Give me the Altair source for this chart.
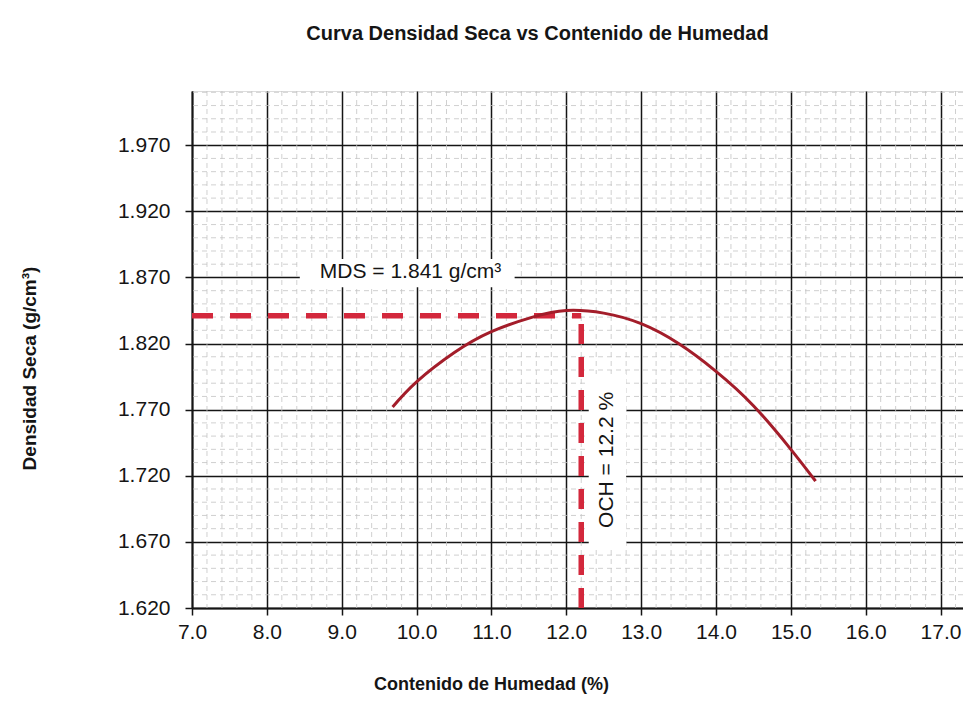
import altair as alt
import pandas as pd
import numpy as np

# ---- data ----
curve_x = [9.68, 10.0, 10.5, 11.0, 11.55, 12.0, 12.5, 13.0, 13.5, 14.0, 14.5, 15.0, 15.33]
curve_y = [1.772, 1.791, 1.813, 1.829, 1.840, 1.845, 1.843, 1.835, 1.820, 1.799, 1.773, 1.740, 1.716]

mds_value = 1.841      # g/cm3
och_value = 12.2       # %

x_ticks = [7.0, 8.0, 9.0, 10.0, 11.0, 12.0, 13.0, 14.0, 15.0, 16.0, 17.0]
y_ticks = [1.620, 1.670, 1.720, 1.770, 1.820, 1.870, 1.920, 1.970]

x_domain = [7.0, 17.3]
y_domain = [1.620, 2.011]

mds_label = "MDS = 1.841 g/cm³"
och_label = "OCH = 12.2 %"

# label positions / white label boxes (data units)
mds_pos = [9.92, 1.8738]
mds_box = [8.44, 11.31, 1.8625, 1.8840]
och_pos = [12.55, 1.732]
och_box = [12.30, 12.80, 1.666, 1.797]

# minor grid (graph paper)
minor_x = [v for v in np.round(np.arange(7.2, 17.3, 0.2), 2) if abs(v - round(v)) > 1e-6]
minor_y = [v for v in np.round(np.arange(1.63, 2.011, 0.01), 3)
           if abs((v - 1.62) / 0.05 - round((v - 1.62) / 0.05)) > 1e-6]

FONT = "Liberation Sans"
INK = "#151515"
RED_DASH = "#d3283c"
RED_CURVE = "#a31d2a"

xscale = alt.Scale(domain=x_domain, nice=False, zero=False)
yscale = alt.Scale(domain=y_domain, nice=False, zero=False)

x_axis = alt.Axis(values=x_ticks, format=".1f", grid=True, gridColor=INK, gridWidth=1.5,
                  domainColor=INK, domainWidth=2, tickColor=INK, tickSize=7, tickWidth=1.5,
                  labelFont=FONT, labelFontSize=21, labelColor=INK, labelPadding=6,
                  labelFlush=False,
                  title="Contenido de Humedad (%)", titleFont=FONT, titleFontSize=18,
                  titleFontWeight="bold", titleColor=INK, titleX=299, titleY=76,
                  titleBaseline="middle", titleAlign="center")
y_axis = alt.Axis(values=y_ticks, format=".3f", grid=True, gridColor=INK, gridWidth=1.5,
                  domainColor=INK, domainWidth=2, tickColor=INK, tickSize=7, tickWidth=1.5,
                  labelFont=FONT, labelFontSize=21, labelColor=INK, labelPadding=15,
                  labelFlush=False,
                  title="Densidad Seca  (g/cm³)", titleFont=FONT, titleFontSize=19,
                  titleFontWeight="bold", titleColor=INK, titleX=-163, titleY=277,
                  titleAngle=270, titleBaseline="middle", titleAlign="center")


def X(field):
    return alt.X(field, type="quantitative", scale=xscale, axis=x_axis)


def Y(field):
    return alt.Y(field, type="quantitative", scale=yscale, axis=y_axis)


minor_v = alt.Chart(pd.DataFrame({"x": minor_x})).mark_rule(
    color="#c4c4c4", strokeWidth=0.8, strokeDash=[5, 4]).encode(x=X("x"))
minor_h = alt.Chart(pd.DataFrame({"y": minor_y})).mark_rule(
    color="#c4c4c4", strokeWidth=0.8, strokeDash=[5, 4]).encode(y=Y("y"))

boxes = alt.Chart(pd.DataFrame({
    "x": [mds_box[0], och_box[0]], "x2": [mds_box[1], och_box[1]],
    "y": [mds_box[2], och_box[2]], "y2": [mds_box[3], och_box[3]],
})).mark_rect(color="white").encode(x=X("x"), x2="x2", y=Y("y"), y2="y2")

h_dash = alt.Chart(pd.DataFrame({"x": [x_domain[0]], "x2": [och_value], "y": [mds_value]})).mark_rule(
    color=RED_DASH, strokeWidth=5.5, strokeDash=[21, 17]).encode(x=X("x"), x2="x2", y=Y("y"))
v_dash = alt.Chart(pd.DataFrame({"x": [och_value], "y": [y_domain[0]], "y2": [mds_value]})).mark_rule(
    color=RED_DASH, strokeWidth=5.5, strokeDash=[20, 13]).encode(x=X("x"), y=Y("y"), y2="y2")

curve = alt.Chart(pd.DataFrame({"x": curve_x, "y": curve_y})).mark_line(
    color=RED_CURVE, strokeWidth=3, interpolate="natural").encode(x=X("x"), y=Y("y"))

mds_text = alt.Chart(pd.DataFrame({"x": [mds_pos[0]], "y": [mds_pos[1]], "t": [mds_label]})).mark_text(
    font=FONT, fontSize=21, color=INK, align="center", baseline="middle").encode(
    x=X("x"), y=Y("y"), text="t:N")
och_text = alt.Chart(pd.DataFrame({"x": [och_pos[0]], "y": [och_pos[1]], "t": [och_label]})).mark_text(
    font=FONT, fontSize=21, color=INK, align="center", baseline="middle", angle=270).encode(
    x=X("x"), y=Y("y"), text="t:N")

chart = alt.layer(minor_v, minor_h, boxes, h_dash, v_dash, curve, mds_text, och_text).properties(
    width=771, height=517,
    padding={"left": 184, "top": 83, "right": 0, "bottom": 100},
    autosize=alt.AutoSizeParams(type="none"),
    title=alt.Title("Curva Densidad Seca  vs Contenido de Humedad", font=FONT, fontSize=20,
                    fontWeight="bold", color=INK, anchor="middle", dx=-40, offset=47),
).configure_view(stroke=INK, strokeWidth=2).configure(background="white")

chart.save("out.html", embed_options={"renderer": "svg", "actions": False})
